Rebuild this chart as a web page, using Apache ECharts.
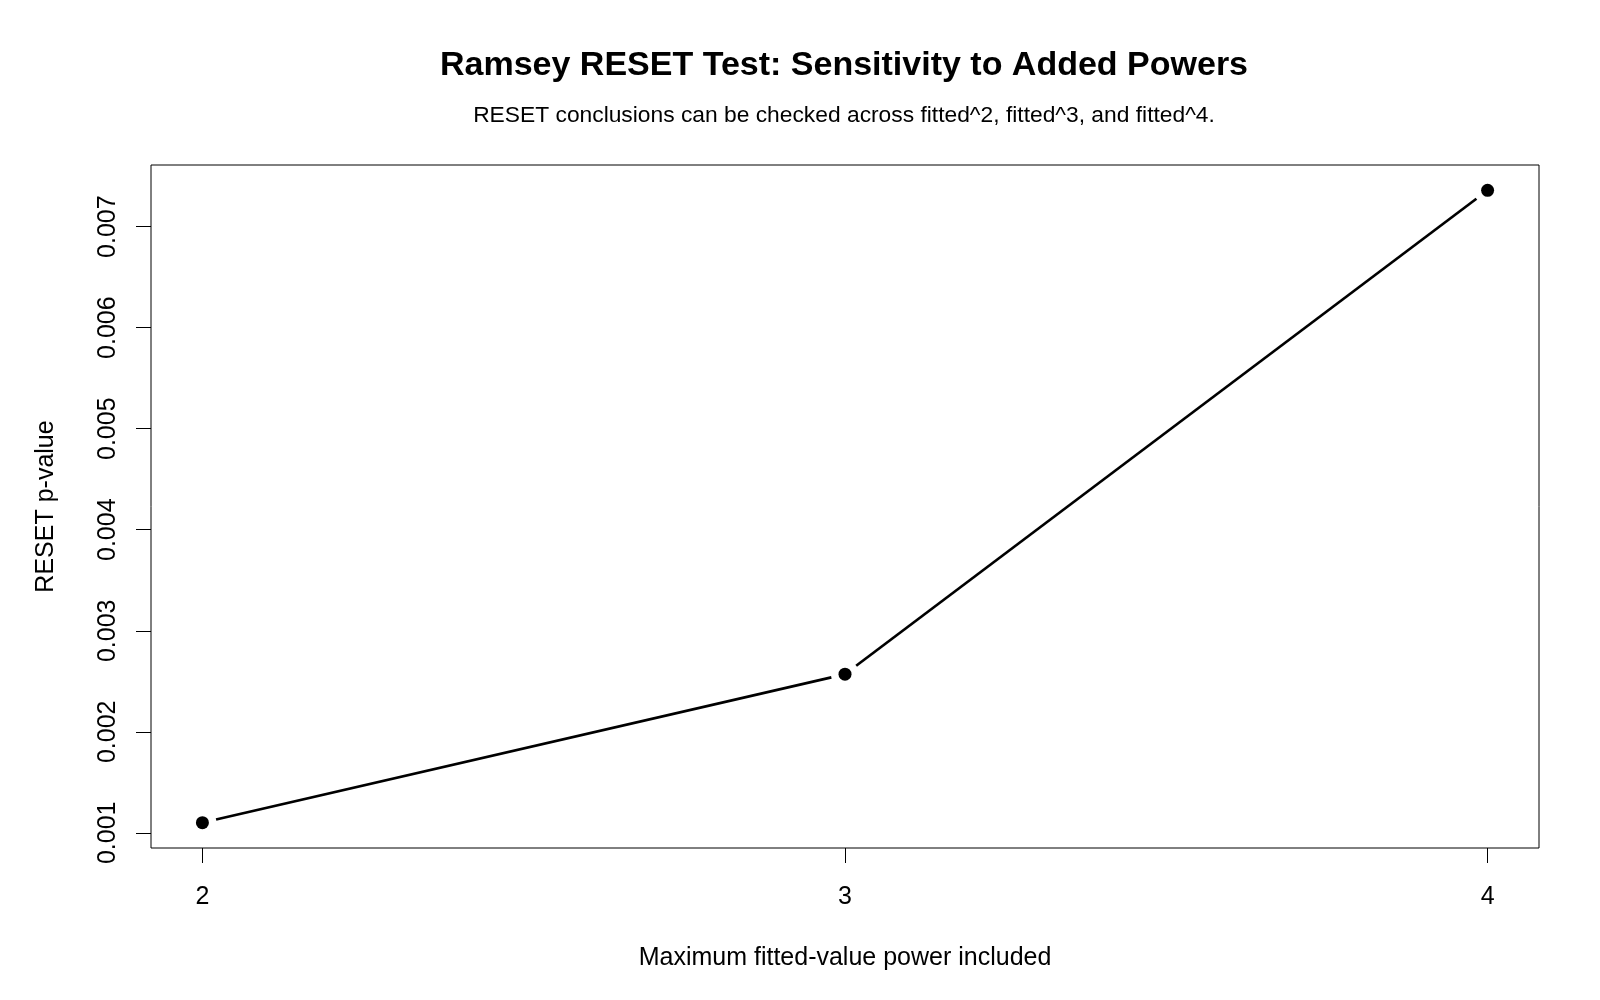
<!DOCTYPE html>
<html>
<head>
<meta charset="utf-8">
<script src="https://cdn.jsdelivr.net/npm/echarts@6/dist/echarts.min.js"></script>
<style>html,body{margin:0;padding:0;background:#fff}#c{width:1600px;height:1000px}</style>
</head>
<body>
<div id="c"></div>
<script>
const powers = [2, 3, 4];
const pValues = [0.00110, 0.00257, 0.00736];
const xTicks = [2, 3, 4];
const yTicks = [0.001, 0.002, 0.003, 0.004, 0.005, 0.006, 0.007];

const titleText = 'Ramsey RESET Test: Sensitivity to Added Powers';
const subtitleText = 'RESET conclusions can be checked across fitted^2, fitted^3, and fitted^4.';
const xName = 'Maximum fitted-value power included';
const yName = 'RESET p-value';

// R-style 4% axis extension
const xr = [Math.min(...powers), Math.max(...powers)];
const yr = [Math.min(...pValues), Math.max(...pValues)];
const xPad = (xr[1] - xr[0]) * 0.04, yPad = (yr[1] - yr[0]) * 0.04;

const points = powers.map((p, i) => [p, pValues[i]]);
const segments = [];
for (let i = 0; i < points.length - 1; i++) segments.push([points[i][0], points[i][1], points[i+1][0], points[i+1][1]]);

const FONT = 'Liberation Sans, Arial, sans-serif';
const GAP = 14;

const chart = echarts.init(document.getElementById('c'), null, {renderer: 'canvas'});
chart.setOption({
  animation: false,
  backgroundColor: '#fff',
  title: [
    {text: titleText, left: 839, top: 44, textAlign: 'center',
     textStyle: {fontFamily: FONT, fontSize: 34, fontWeight: 'bold', color: '#000'}},
    {text: subtitleText, left: 839, top: 99, textAlign: 'center',
     textStyle: {fontFamily: FONT, fontSize: 22.8, fontWeight: 'normal', color: '#000'}}
  ],
  grid: {left: 151, right: 61, top: 165, bottom: 152, show: true, borderColor: '#000', borderWidth: 1, backgroundColor: 'transparent'},
  xAxis: {
    type: 'value', min: xr[0] - xPad, max: xr[1] + xPad,
    name: xName, nameLocation: 'middle', nameGap: 98,
    nameTextStyle: {fontFamily: FONT, fontSize: 25, color: '#000'},
    splitLine: {show: false}, axisLine: {show: false},
    axisTick: {show: true, length: 15, lineStyle: {color: '#000', width: 1}, customValues: xTicks},
    axisLabel: {fontFamily: FONT, fontSize: 25, color: '#000', margin: 37, customValues: xTicks, formatter: v => String(v)}
  },
  yAxis: {
    type: 'value', min: yr[0] - yPad, max: yr[1] + yPad,
    name: yName, nameLocation: 'middle', nameGap: 92, nameRotate: 90,
    nameTextStyle: {fontFamily: FONT, fontSize: 25, color: '#000'},
    splitLine: {show: false}, axisLine: {show: false},
    axisTick: {show: true, length: 15, lineStyle: {color: '#000', width: 1}, customValues: yTicks},
    axisLabel: {fontFamily: FONT, fontSize: 25, color: '#000', margin: 30, rotate: 90, customValues: yTicks, formatter: v => v.toFixed(3)}
  },
  series: [
    {
      type: 'custom',
      data: segments,
      renderItem: function (params, api) {
        const a = api.coord([api.value(0), api.value(1)]);
        const b = api.coord([api.value(2), api.value(3)]);
        const dx = b[0] - a[0], dy = b[1] - a[1];
        const len = Math.sqrt(dx*dx + dy*dy);
        const ux = dx / len, uy = dy / len;
        return {
          type: 'line',
          shape: {x1: a[0] + ux*GAP, y1: a[1] + uy*GAP, x2: b[0] - ux*GAP, y2: b[1] - uy*GAP},
          style: {stroke: '#000', lineWidth: 2.7}
        };
      },
      encode: {x: [0, 2], y: [1, 3]},
      silent: true
    },
    {
      type: 'scatter',
      data: points,
      symbol: 'circle', symbolSize: 13,
      itemStyle: {color: '#000', opacity: 1},
      silent: true
    }
  ]
});
</script>
</body>
</html>
